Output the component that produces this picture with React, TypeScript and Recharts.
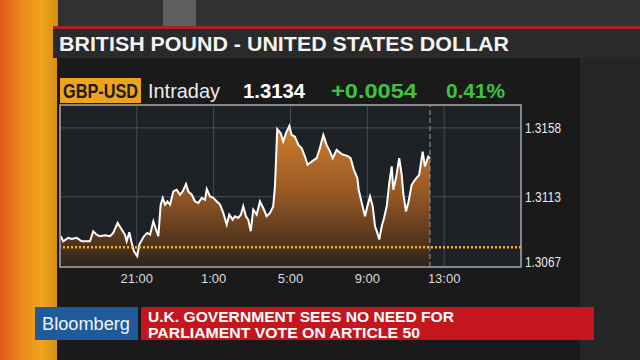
import { Area, CartesianGrid, ComposedChart, ReferenceLine, XAxis, YAxis } from "recharts";

// hours since 17:00 the previous day
const hours = [
  0.04, 0.17, 0.43, 0.61, 0.87, 1.13, 1.3, 1.56, 1.73, 1.91,
  2.08, 2.34, 2.6, 2.77, 3.0, 3.21, 3.38, 3.47, 3.61, 3.73,
  3.85, 4.02, 4.13, 4.37, 4.54, 4.69, 4.86, 5.0, 5.12, 5.24,
  5.35, 5.47, 5.59, 5.73, 5.9, 6.07, 6.25, 6.39, 6.56, 6.68,
  6.86, 7.03, 7.2, 7.38, 7.55, 7.64, 7.81, 7.98, 8.16, 8.33,
  8.5, 8.68, 8.81, 8.99, 9.11, 9.28, 9.42, 9.54, 9.68, 9.8,
  9.93, 10.06, 10.24, 10.41, 10.58, 10.76, 10.93, 11.1, 11.19, 11.31,
  11.49, 11.62, 11.76, 11.94, 12.06, 12.23, 12.41, 12.58, 12.75, 12.89,
  13.1, 13.36, 13.53, 13.71, 13.88, 14.06, 14.2, 14.4, 14.58, 14.75,
  14.96, 15.13, 15.3, 15.48, 15.55, 15.71, 15.88, 16.0, 16.14, 16.28,
  16.4, 16.52, 16.62, 16.75, 16.87, 17.01, 17.14, 17.27, 17.35, 17.49,
  17.66, 17.79, 17.87, 18.01, 18.13, 18.31, 18.48, 18.7, 18.88, 19.0,
  19.17, 19.26,
];

const rates = [
  1.30871, 1.30838, 1.30861, 1.30854, 1.30861, 1.30838, 1.30838, 1.30838, 1.30904, 1.30882,
  1.30871, 1.30878, 1.30871, 1.30893, 1.30958, 1.30915, 1.30882, 1.30838, 1.30897, 1.30828,
  1.30773, 1.30741, 1.30817, 1.30871, 1.30893, 1.30882, 1.30969, 1.30915, 1.30871, 1.31078,
  1.31122, 1.31078, 1.31099, 1.31078, 1.31165, 1.31176, 1.31143, 1.31165, 1.31213, 1.31165,
  1.31143, 1.31099, 1.31089, 1.31122, 1.3111, 1.3118, 1.31132, 1.31122, 1.31099, 1.31078,
  1.31024, 1.30947, 1.31013, 1.3098, 1.31002, 1.30991, 1.31013, 1.31067, 1.31002, 1.3098,
  1.30904, 1.31045, 1.31013, 1.31099, 1.31056, 1.31002, 1.31024, 1.31067, 1.31197, 1.31572,
  1.31545, 1.31491, 1.31545, 1.31593, 1.31534, 1.31523, 1.31469, 1.31448, 1.31393, 1.31339,
  1.3136, 1.31382, 1.31448, 1.31534, 1.31469, 1.31425, 1.31382, 1.31437, 1.31417, 1.31404,
  1.31397, 1.31382, 1.31306, 1.31252, 1.31176, 1.31089, 1.31002, 1.31067, 1.31132, 1.31067,
  1.30936, 1.30893, 1.3085, 1.30936, 1.30991, 1.31067, 1.31219, 1.31328, 1.31176, 1.31252,
  1.31382, 1.31273, 1.31154, 1.31034, 1.31089, 1.31208, 1.31241, 1.31273, 1.31425, 1.31328,
  1.31393, 1.31382,
];

const xTicks = [4, 8, 12, 16, 20];
const xTickLabels = ["21:00", "1:00", "5:00", "9:00", "13:00"];
const yTicks = [1.3067, 1.3113, 1.3158];
const yDomain = [1.3067, 1.3173];
const prevClose = 1.308;
const lastTime = 19.26;

const data = hours.map((h, i) => ({ h, rate: rates[i] }));

const font = "'Liberation Sans', Arial, sans-serif";

function XTick({ x, y, payload }: any) {
  const label = xTickLabels[xTicks.indexOf(payload.value)];
  return (
    <text x={x} y={y + 16} textAnchor="middle" fill="#dcdcdc" fontSize={13} fontFamily={font}>
      {label}
    </text>
  );
}

function YTick({ x, y, payload }: any) {
  const bottom = payload.value === yTicks[0];
  return (
    <text
      x={x + 4}
      y={bottom ? y : y + 5}
      fill="#e8e8e8"
      fontSize={14}
      fontFamily={font}
      textLength={36}
      lengthAdjust="spacingAndGlyphs"
    >
      {payload.value.toFixed(4)}
    </text>
  );
}

export default function App() {
  return (
    <div style={{ position: "fixed", left: 0, top: 0, width: 640, height: 360, overflow: "hidden" }}>
      <svg width={640} height={360} style={{ position: "absolute", left: 0, top: 0 }}>
        <defs>
          <linearGradient id="strip" x1="0" x2="1" y1="0" y2="0">
            <stop offset="0" stopColor="#e2581a" />
            <stop offset="0.35" stopColor="#ec861c" />
            <stop offset="0.72" stopColor="#f0a41e" />
            <stop offset="1" stopColor="#d48e16" />
          </linearGradient>
        </defs>
        <rect width={640} height={360} fill="#262626" />
        <rect x={57} y={0} width={583} height={27} fill="#313131" />
        <rect x={163} y={0} width={33} height={27} fill="#5e5e5e" />
        <rect x={0} y={0} width={58} height={360} fill="url(#strip)" />
        <rect x={57} y={58} width={523} height={302} fill="#1a1a1a" />
        <rect x={53} y={28} width={587} height={30} fill="#2a2a2a" />
        <rect x={53} y={26} width={587} height={3} fill="#a82424" />
        <text x={59} y={51} fill="#f4f4f4" fontSize={20} fontWeight="bold" fontFamily={font} textLength={450} lengthAdjust="spacingAndGlyphs">
          BRITISH POUND - UNITED STATES DOLLAR
        </text>

        <rect x={60} y={78} width={81} height={25} fill="#eea21e" />
        <text x={63} y={98} fill="#1c1c1c" fontSize={20} fontWeight="bold" fontFamily={font} textLength={75} lengthAdjust="spacingAndGlyphs">
          GBP-USD
        </text>
        <text x={148} y={98} fill="#ececec" fontSize={21} fontFamily={font} textLength={72} lengthAdjust="spacingAndGlyphs">
          Intraday
        </text>
        <text x={243} y={98} fill="#ffffff" fontSize={21} fontWeight="bold" fontFamily={font} textLength={62} lengthAdjust="spacingAndGlyphs">
          1.3134
        </text>
        <text x={331} y={98} fill="#3ec43c" fontSize={21} fontWeight="bold" fontFamily={font} textLength={86} lengthAdjust="spacingAndGlyphs">
          +0.0054
        </text>
        <text x={446} y={98} fill="#3ec43c" fontSize={21} fontWeight="bold" fontFamily={font} textLength={59} lengthAdjust="spacingAndGlyphs">
          0.41%
        </text>

        <rect x={35} y={307} width={103} height={33} fill="#1f5b9b" />
        <text x={42} y={330} fill="#eef4fa" fontSize={19} fontFamily={font} textLength={88} lengthAdjust="spacingAndGlyphs">
          Bloomberg
        </text>
        <rect x={141} y={307} width={453} height={33} fill="#c4161c" />
        <text fill="#ffffff" fontSize={14} fontWeight="bold" fontFamily={font}>
          <tspan x={148} y={321.5} textLength={306} lengthAdjust="spacingAndGlyphs">
            U.K. GOVERNMENT SEES NO NEED FOR
          </tspan>
          <tspan x={148} y={337.5} textLength={272} lengthAdjust="spacingAndGlyphs">
            PARLIAMENT VOTE ON ARTICLE 50
          </tspan>
        </text>
      </svg>

      <div style={{ position: "absolute", left: 0, top: 0 }}>
        <ComposedChart width={640} height={360} data={data} margin={{ top: 105, right: 59, bottom: 63, left: 60 }}>
          <defs>
            <linearGradient id="fillGrad" x1="0" x2="0" y1="0" y2="1">
              <stop offset="0" stopColor="#d27c2c" />
              <stop offset="0.5" stopColor="#925624" />
              <stop offset="1" stopColor="#2e2319" />
            </linearGradient>
          </defs>
          <CartesianGrid stroke="#4a4e54" fill="#1e2226" />
          <XAxis
            dataKey="h"
            type="number"
            domain={[0, 24]}
            ticks={xTicks}
            height={30}
            axisLine={false}
            tickLine={false}
            tickSize={0}
            tickMargin={0}
            tick={<XTick />}
          />
          <YAxis
            orientation="right"
            type="number"
            domain={yDomain}
            ticks={yTicks}
            width={60}
            axisLine={false}
            tickLine={false}
            tickSize={0}
            tickMargin={0}
            allowDataOverflow
            tick={<YTick />}
          />
          <Area
            type="linear"
            dataKey="rate"
            stroke="#ffffff"
            strokeWidth={2}
            fill="url(#fillGrad)"
            fillOpacity={1}
            dot={false}
            activeDot={false}
            isAnimationActive={false}
          />
          <ReferenceLine y={prevClose} stroke="#f2b01e" strokeWidth={2.5} strokeDasharray="2 2" />
          <ReferenceLine x={lastTime} stroke="#9a9a9a" strokeWidth={1} strokeDasharray="5 3" />
        </ComposedChart>
      </div>

      <svg width={640} height={360} style={{ position: "absolute", left: 0, top: 0, pointerEvents: "none" }}>
        <rect x={60} y={105} width={461} height={162} fill="none" stroke="#a2a2a2" strokeWidth={1.5} />
      </svg>
    </div>
  );
}
